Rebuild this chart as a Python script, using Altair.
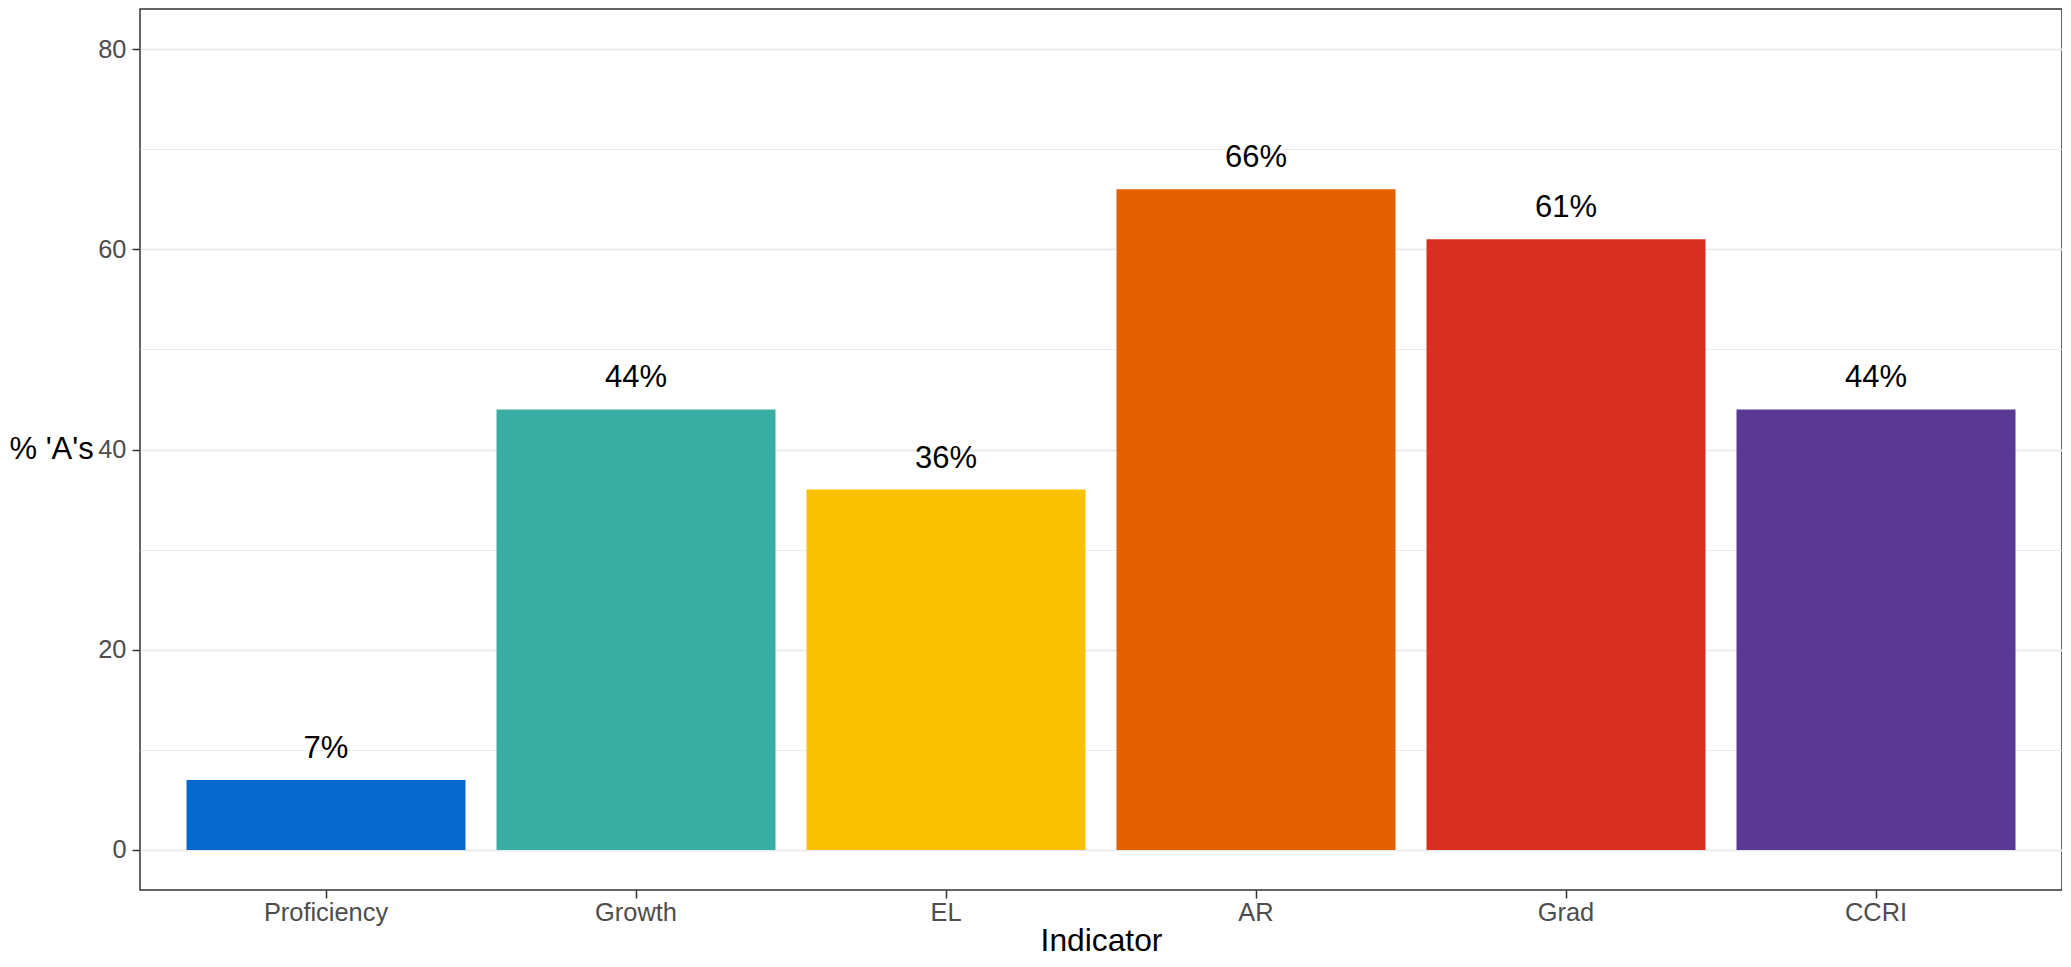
import altair as alt
import pandas as pd

categories = ["Proficiency", "Growth", "EL", "AR", "Grad", "CCRI"]
values = [7, 44, 36, 66, 61, 44]
colors = ["#0468CC", "#3BAEA4", "#F9C100", "#E36100", "#D92F21", "#5A3995"]
y_ticks = [0, 10, 20, 30, 40, 50, 60, 70, 80]

df = pd.DataFrame({"Indicator": categories, "value": values})

FONT = "Liberation Sans"
W, H = 1922, 881
LEFT = 132

x_enc = alt.X(
    "Indicator:N",
    sort=categories,
    scale=alt.Scale(paddingInner=0.1, paddingOuter=0.15),
    axis=alt.Axis(
        title="Indicator",
        labelAngle=0,
        labelFont=FONT,
        labelFontSize=25.4,
        labelColor="#4D4D4D",
        labelPadding=2,
        titleFont=FONT,
        titleFontSize=31.75,
        titleFontWeight="normal",
        titleColor="#000000",
        titlePadding=0,
        tickSize=8,
        tickWidth=1.5,
        tickColor="#333333",
        domain=False,
        grid=False,
    ),
)

y_scale = alt.Scale(domain=[-4, 84], nice=False, zero=False)

base = alt.Chart(df)

bars = base.mark_bar().encode(
    x=x_enc,
    y=alt.Y(
        "value:Q",
        scale=y_scale,
        axis=alt.Axis(
            title="% 'A's",
            values=y_ticks,
            labelExpr="datum.value % 20 === 0 ? datum.label : ''",
            labelFont=FONT,
            labelFontSize=25.4,
            labelColor="#4D4D4D",
            labelPadding=6,
            tickSize=8,
            tickWidth=1.5,
            tickColor={"condition": {"test": "datum.value % 20 === 0", "value": "#333333"}, "value": "transparent"},
            grid=True,
            gridColor="#EBEBEB",
            gridWidth={"condition": {"test": "datum.value % 20 === 0", "value": 2}, "value": 1},
            domain=False,
            titleFont=FONT,
            titleFontSize=31,
            titleFontWeight="normal",
            titleColor="#000000",
            titleAngle=0,
            titleAlign="left",
            titleBaseline="middle",
            titleX=-LEFT + 1,
            titleY=H / 2,
        ),
    ),
    y2=alt.datum(0),
    color=alt.Color(
        "Indicator:N",
        scale=alt.Scale(domain=categories, range=colors),
        legend=None,
    ),
)

labels = base.transform_calculate(
    label="datum.value + '%'"
).mark_text(
    font=FONT,
    fontSize=31,
    color="#000000",
    baseline="alphabetic",
    align="center",
    dy=-22,
).encode(
    x=alt.X("Indicator:N", sort=categories),
    y=alt.Y("value:Q", scale=y_scale),
    text="label:N",
)

chart = (
    alt.layer(bars, labels)
    .properties(
        width=W,
        height=H,
        background="white",
        autosize=alt.AutoSizeParams(type="none"),
        padding={"left": LEFT, "top": 1, "right": 0, "bottom": 69},
    )
    .configure_view(stroke="#333333", strokeWidth=1.5)
)

chart.save("out.html", embed_options={"renderer": "svg", "actions": False})
